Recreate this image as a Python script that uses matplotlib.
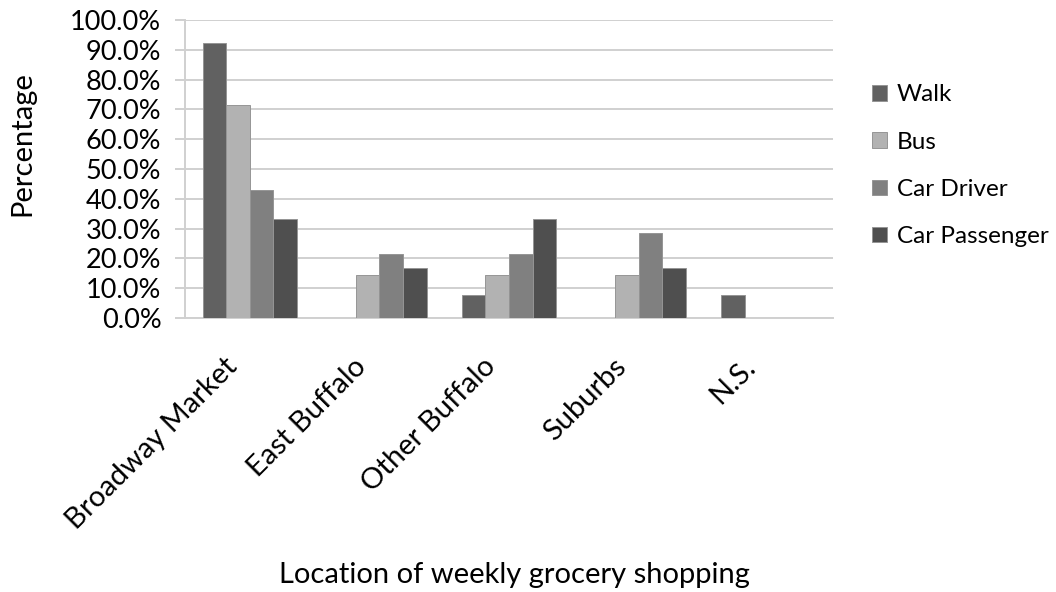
import numpy as np
import matplotlib
matplotlib.use("Agg")
from matplotlib import pyplot as plt
from matplotlib import transforms
from matplotlib.ticker import PercentFormatter

plt.rcParams["font.family"] = ["Lato", "DejaVu Sans"]

locations = ["Broadway Market", "East Buffalo", "Other Buffalo", "Suburbs", "N.S."]
modes = ["Walk", "Bus", "Car Driver", "Car Passenger"]
walk = [92.3, 0.0, 7.7, 0.0, 7.7]
bus = [71.4, 14.3, 14.3, 14.3, 0.0]
car_driver = [42.9, 21.4, 21.4, 28.6, 0.0]
car_passenger = [33.3, 16.7, 33.3, 16.7, 0.0]
colors = ["#616161", "#b2b2b2", "#808080", "#4f4f4f"]

series = [walk, bus, car_driver, car_passenger]
grid_c = "#d0d0d0"

fig = plt.figure(figsize=(10.56, 5.92), dpi=100)
ax = fig.add_axes([0.1752, 0.4628, 0.6136, 0.5034])

x = np.arange(len(locations))
width = 0.182
for i, (name, vals, c) in enumerate(zip(modes, series, colors)):
    ax.bar(x + (i - 1.5) * width, vals, width, color=c, edgecolor="#959595",
           linewidth=0.7, label=name, zorder=3)

ax.set_xlim(-0.5, len(locations) - 0.5)
ax.set_ylim(0, 100)
ax.set_yticks(np.arange(0, 101, 10))
ax.yaxis.set_major_formatter(PercentFormatter(decimals=1))
ax.grid(axis="y", color=grid_c, linewidth=1.4, zorder=0)
for side in ["top", "right"]:
    ax.spines[side].set_visible(False)
for side in ["left", "bottom"]:
    ax.spines[side].set_color(grid_c)
    ax.spines[side].set_linewidth(1.4)
ax.tick_params(axis="y", length=7, width=1.4, color=grid_c, labelsize=19.5, pad=10)
ax.tick_params(axis="x", length=0, labelsize=21, pad=32)
ax.set_xticks(x)
ax.set_xticklabels(locations, rotation=45, ha="right", va="center",
                   rotation_mode="anchor")
shift = transforms.ScaledTranslation(-17 / 100, 0, fig.dpi_scale_trans)
for lbl in ax.get_xticklabels():
    lbl.set_transform(lbl.get_transform() + shift)

fig.text(0.021, 0.758, "Percentage", rotation=90, ha="center", va="center",
         fontsize=21)
fig.text(0.487, 0.029, "Location of weekly grocery shopping", ha="center",
         va="center", fontsize=21)

ax.legend(loc="center left", bbox_to_anchor=(0.826, 0.72),
          bbox_transform=fig.transFigure, frameon=False, fontsize=17.5,
          handlelength=0.6, handleheight=0.6, labelspacing=1.08,
          handletextpad=0.4, borderpad=0, borderaxespad=0)

fig.savefig("out.png", dpi=100)
